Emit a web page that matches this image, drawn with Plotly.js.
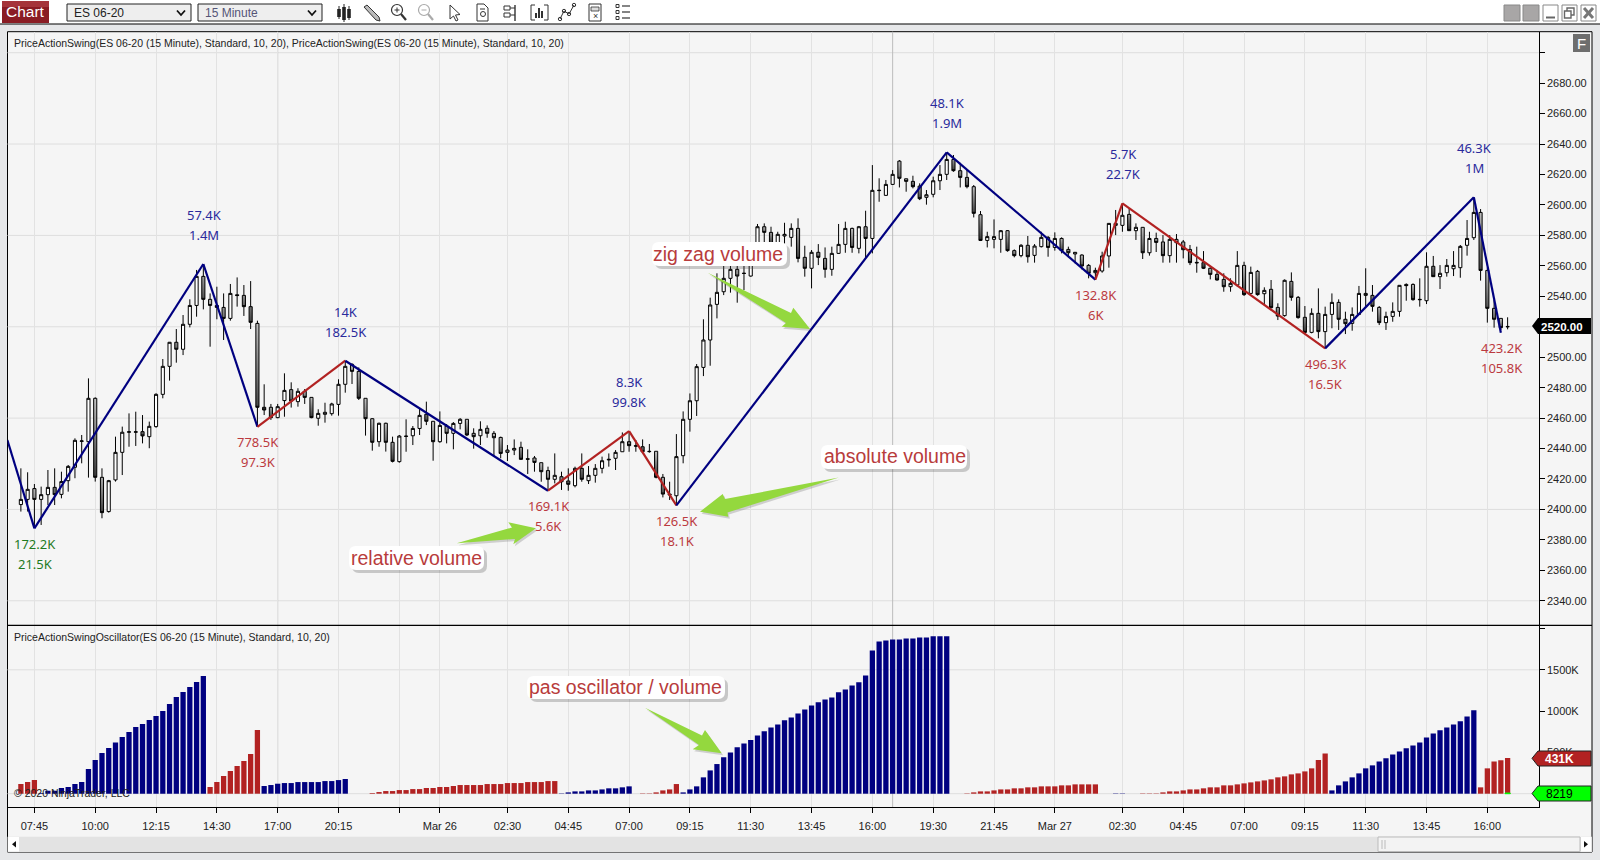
<!DOCTYPE html>
<html><head><meta charset="utf-8">
<script src="https://cdn.plot.ly/plotly-3.0.1.min.js"></script>
<style>html,body{margin:0;padding:0;background:#e6e7e9;overflow:hidden}#chart{width:1600px;height:860px}</style>
</head><body><div id="chart"></div>
<script>
const firstBar=-2;
const barOpen=[
2403.2,2406.6,2413.7,2406.6,2409.7,2414.5,2409.9,2418.9,2427.7,2444.7,
2444.5,2473,2421.1,2398.6,2419.4,2437.5,2450.7,2450.7,2451.1,2447.8,
2454.4,2475.6,2494,2509.8,2505.2,2521.6,2534,2553.1,2538,2534,
2532.7,2525.5,2541,2540.6,2533.2,2522.2,2467.1,2467.1,2460.3,2471.5,
2478.7,2470.8,2477.6,2473.6,2459.9,2462.5,2462.9,2469,2482.2,2495.3,
2490.7,2473,2459.6,2444.5,2456.6,2444.1,2431.4,2448.2,2448.4,2453.2,
2462.5,2457.9,2444.5,2454.8,2450,2456.5,2459.2,2450,2448.4,2453.3,
2450,2447.3,2437.5,2439,2440.8,2433.3,2433.8,2430.7,2425.5,2419.8,
2421.5,2418.7,2415.6,2427,2418.9,2422.4,2427,2432.5,2433.6,2437.9,
2444.5,2441.9,2441.2,2438.2,2438.2,2421.1,2410.1,2409,2435.3,2459.2,
2471.4,2493.3,2511.3,2534.7,2543,2551.8,2557.7,2555.2,2553.3,2566,
2585.7,2582,2574.1,2579.6,2578.7,2584.6,2565.6,2558.4,2568.9,2564.9,
2557.7,2568.2,2574.1,2584.6,2571.5,2585.7,2578,2609.4,2606.3,2613.5,
2628.8,2617.2,2615.5,2612.4,2605,2607,2615.9,2620.1,2629.9,2622.5,
2618.1,2612,2593.6,2576.7,2577.4,2577.4,2583.1,2570,2566.7,2573.5,
2566.9,2572.6,2578.7,2572.1,2578,2570.8,2567.8,2567.1,2560.3,2555.5,
2556.6,2566.5,2586.6,2586.6,2593.8,2583.1,2585.3,2568.6,2578,2575.7,
2566.7,2577.4,2575.7,2570.8,2562.3,2562.1,2558.4,2554.4,2551.1,2546.3,
2547.4,2560.3,2541.9,2556.4,2541.7,2544.6,2532.7,2527.3,2549.8,2539.3,
2526.2,2516.3,2528.8,2516.8,2528.1,2536,2524.9,2522.2,2528.1,2540.6,
2540.6,2532.7,2522.7,2526.8,2530.1,2547.8,2547.8,2538,2537.1,2559.7,
2552.9,2555.5,2558.1,2558.8,2573.5,2578.5,2595.1,2557,2532.1,2525.5,2520.2];
const barHigh=[
2427,2424.4,2416.7,2415,2425.9,2427,2424.8,2429.2,2446.7,2448.9,
2486.1,2473.6,2427,2419.4,2447.8,2454.4,2463.1,2464.2,2462,2457.7,
2476.3,2498.8,2510,2518.5,2527.7,2538,2557.3,2560.6,2541.9,2546.3,
2541.9,2548.1,2552.4,2547.4,2550,2524,2482.2,2469.3,2469.3,2489.4,
2483.5,2479.6,2479.1,2473.6,2465.8,2470.1,2470.1,2485.5,2497,2496,
2493.3,2473,2459.9,2457,2457,2447.8,2448.9,2459.2,2454.8,2466.4,
2470.8,2457.9,2464.4,2456.1,2457.4,2460,2459.2,2453.3,2457.9,2455.2,
2451.5,2447.8,2442.3,2446,2444.5,2439.5,2435.1,2430.7,2428.1,2436.8,
2424.8,2427,2428.1,2436.8,2428.5,2429.8,2434.7,2436.8,2439,2450.6,
2450.4,2445.6,2446,2443,2438.2,2423.3,2418.2,2449.5,2464.4,2476.2,
2495.5,2524.9,2539.1,2555.1,2560.5,2562.7,2566,2561.6,2568.2,2587.5,
2587.9,2585.7,2582.4,2588.3,2587.9,2591.2,2573.2,2570.4,2574.3,2572.1,
2572.6,2587.5,2589,2585.1,2586.2,2596.2,2626.2,2617.5,2616.4,2622.9,
2629.5,2617.2,2619.2,2614.2,2609.8,2618.6,2626.2,2634.5,2632.8,2627.7,
2622.9,2613.1,2596,2582.4,2590.5,2583.5,2583.5,2570.8,2574.3,2579.6,
2574.3,2582.4,2579.6,2582,2578.7,2572.6,2569,2567.6,2561.2,2558.8,
2569.3,2588,2596.7,2601,2597.8,2587.9,2585.3,2582.4,2581.8,2580.2,
2580.2,2580.9,2577,2573.7,2572.6,2569.7,2559,2557.3,2555.1,2551.8,
2569.7,2562.7,2559.5,2557.3,2545.9,2550.7,2535.4,2551.1,2555.7,2540.2,
2533.6,2532.1,2545.2,2533.2,2541.9,2538,2529.9,2532.7,2546.8,2558.4,
2547.4,2533.6,2529.9,2536,2547.4,2548.5,2548.5,2551.8,2568.9,2566.5,
2560.5,2564.5,2569.7,2573.7,2590.1,2604.3,2597.3,2559,2537.6,2525.5,2526.2];
const barLow=[
2398.6,2398.6,2388.7,2389.8,2402.9,2402.9,2407.3,2411.7,2420.5,2430.3,
2420.9,2418.3,2394.2,2397.9,2418.3,2422.6,2441.2,2441.7,2443.4,2440.2,
2453.7,2473,2484.6,2496.4,2501.4,2519.6,2526.6,2531.4,2506.9,2524.9,
2511.3,2524,2533.2,2527.1,2518.5,2454.4,2462,2458.8,2459.9,2460.9,
2466.9,2467.5,2469.3,2459.9,2455,2457,2461.6,2461.6,2476.7,2482.4,
2471.9,2448.5,2438.6,2441.2,2438,2430.9,2430.7,2437.9,2442.3,2448.9,
2455.4,2432,2443.8,2443.4,2439.5,2452.6,2448.2,2439.9,2442.3,2447.1,
2434.7,2433.6,2431.8,2435.7,2432.5,2423.3,2424.8,2418.2,2412.8,2417.1,
2412.8,2412.3,2414.5,2418.2,2416.7,2417.6,2423.7,2428.1,2425.9,2437.9,
2437.9,2437.9,2437.3,2437.3,2420.4,2407.9,2406.2,2402.5,2430.3,2451.1,
2461.4,2487.6,2494.4,2525.5,2540.8,2542.4,2535.8,2544.1,2552.9,2564.9,
2574.8,2573.7,2573.7,2572.6,2572.6,2562.3,2552.9,2545.2,2560.5,2552.2,
2553.5,2567.8,2568.6,2568.6,2568.2,2564.9,2568.2,2602.1,2606.1,2613.1,
2611.5,2608.7,2610.9,2603.2,2600.2,2605,2609.8,2616.4,2621.8,2611.5,
2610.9,2591.8,2576.3,2572.1,2571.5,2568.6,2569.3,2565.6,2565.6,2562.1,
2562.1,2572.1,2566,2570,2568.2,2565.6,2561.6,2557.7,2551.8,2550.7,
2555.5,2558.8,2580.2,2582.4,2583,2577,2564.5,2566.7,2569.1,2562.1,
2562.1,2562.1,2564.9,2560.5,2555.5,2557.9,2551.1,2550.3,2543,2543,
2546.3,2540.2,2541.5,2540.4,2534.3,2532.1,2524.4,2526.6,2537.1,2525.3,
2515.7,2515.7,2512.4,2505.8,2519,2517.9,2515.2,2517.4,2527.7,2533.2,
2529.9,2521.1,2517.9,2523.3,2526.6,2537.1,2537.1,2533.2,2534.9,2552.9,
2544.8,2552.9,2553.3,2552.2,2566.7,2577,2550.3,2522.7,2519.4,2517.9,2518.3];
const barClose=[
2406.6,2413.2,2406.6,2409.7,2414.5,2409.7,2418.3,2428.3,2445.4,2445,
2473,2421.1,2397.9,2418.9,2437.5,2450.7,2451,2451,2448.3,2454.6,
2475.6,2494,2509.8,2505.2,2521.6,2534,2553.1,2538,2534,2532.7,
2525.5,2541.9,2540.5,2533.2,2522.9,2467.1,2465.3,2460.3,2467.5,2478.2,
2471.2,2477.6,2473.6,2460.3,2463.1,2463.8,2469.3,2482.2,2494,2490.7,
2473,2459.6,2444.1,2456.6,2444.1,2431.6,2448.2,2448,2453.2,2461.8,
2457.9,2444.5,2455.2,2450,2456.5,2459.2,2448.9,2447.8,2452.6,2450,
2447.1,2436.8,2439,2440.1,2432.9,2433,2430.9,2424.8,2419.8,2422.4,
2418.2,2416.5,2427,2419.8,2422.4,2427,2432,2432.9,2437.5,2444.5,
2441.9,2441.6,2437.9,2438,2421.1,2410.1,2409.6,2434.7,2459.2,2471.4,
2493.8,2511.3,2534.3,2542.6,2551.8,2557.7,2553.3,2555,2567.1,2585.7,
2582,2574.1,2580.7,2580.7,2584.6,2564.9,2558.4,2568.9,2565.6,2557.7,
2568.2,2574.1,2584.6,2572.1,2585.7,2578,2609.6,2609.6,2613.5,2620.1,
2617.5,2615.5,2612,2604.1,2606.7,2615.9,2620.1,2629.9,2622.5,2618.1,
2612,2594.5,2576.7,2579.2,2579.2,2583.1,2570,2566.7,2573.5,2566,
2573,2578.7,2572.1,2578,2570,2568.6,2568.9,2559.9,2555.1,2557,
2566.5,2587.9,2587.9,2593.2,2583.1,2585.3,2568.6,2578,2575.4,2566.7,
2577.4,2575.2,2570.6,2562.1,2562,2558.4,2554.4,2550.7,2546.3,2548.5,
2560.3,2541.1,2555.7,2541.1,2543.9,2532.5,2527,2550.5,2539.3,2526,
2516.3,2528.8,2516.8,2528.1,2536,2524.9,2522,2528.1,2541.9,2541.9,
2533.4,2522.7,2526.8,2530.1,2547.2,2547,2537.8,2537.8,2559.7,2552.9,
2555.1,2560.3,2560.3,2572.8,2578,2595.1,2557,2532.1,2524.9,2519.4,2520];
const oscValues=[
117,141,165,10,36,36,69,81,117,141,
299,408,492,553,621,686,746,807,843,892,
940,1001,1085,1170,1231,1291,1352,1424,81,141,
214,274,335,395,480,771,93,105,121,129,
129,141,141,141,141,153,153,165,178,0,
0,0,8,20,32,32,44,44,56,56,
69,69,81,81,93,105,105,105,105,117,
117,117,129,129,129,141,141,141,153,153,
4,16,28,28,40,40,52,65,65,77,
89,0,4,4,16,40,52,117,16,52,
89,198,282,359,440,500,561,609,650,706,
755,803,839,888,924,972,1021,1069,1106,1142,
1166,1227,1263,1311,1348,1432,1735,1844,1856,1868,
1868,1880,1880,1892,1892,1905,1905,1905,0,0,
4,16,28,28,40,52,52,65,65,77,
77,89,89,89,101,101,113,113,113,113,
0,0,4,4,0,0,4,4,4,16,
28,28,40,52,52,65,77,77,101,101,
113,125,137,149,161,174,198,210,234,246,
270,307,408,488,40,101,149,198,246,307,
343,391,428,476,512,549,585,621,682,730,
767,803,839,876,936,1009,77,307,391,404,431];
const oscRunSides=['r','b','r','b','r','b','r','b','r','b','r','b','r'];
const oscRunLengths=[3,25,8,13,31,11,7,40,24,4,28,22,5];
const lastOscillator=8.219;
const swingIdx=[-4,0,25,33,46,76,88,95,135,157,161,191,213,217];
const swingPrice=[2445.6,2387.6,2561.2,2454.3,2497.7,2412.3,2451.5,2402.7,2634.5,2551,2601,2505.8,2605,2516];
const swingSide=['b','b','b','r','b','r','r','b','b','r','r','b','b'];
const labelIdx=[0,25,33,46,76,88,95,135,157,161,191,213,217];
const labelUpper=['172.2K','57.4K','778.5K','14K','169.1K','8.3K','126.5K','48.1K','132.8K','5.7K','496.3K','46.3K','423.2K'];
const labelLower=['21.5K','1.4M','97.3K','182.5K','5.6K','99.8K','18.1K','1.9M','6K','22.7K','16.5K','1M','105.8K'];
const labelKind=['g','h','l','h','l','h','l','h','l','h','l','h','l'];
const xTickIdx=[0,9,18,27,36,45,54,60,70,79,88,97,106,115,124,133,142,151,161,170,179,188,197,206,215];
const xTickText=['07:45','10:00','12:15','14:30','17:00','20:15','','Mar 26','02:30','04:45','07:00','09:15','11:30','13:45','16:00','19:30','21:45','Mar 27','02:30','04:45','07:00','09:15','11:30','13:45','16:00'];
const priceTicks=[2340,2360,2380,2400,2420,2440,2460,2480,2500,2520,2540,2560,2580,2600,2620,2640,2660,2680,2700];
const unlabelledPrices=[2520,2700];
const priceGrid=[2340,2400,2460,2520,2580,2640,2700];
const oscTicks=[500,1000,1500,2000];
const oscTickText=['500K','1000K','1500K',''];
const oscGrid=[0,1500];
const sessionBreaks=[36,127];

const NAVY='#000080',RED='#b22222',LBL_B='#2a2a9c',LBL_R='#bb3a3f',LBL_G='#1f7a1f',CALL='#b83c3c',ARROW='#94d83e';
const W=1600,H=860,L=7.5,R=1538.7,T=31.7,MID=625.3,B=807;
const PX=x=>x/W, PY=y=>1-y/H;
const shapes=[],anns=[];
function rect(x0,y0,x1,y1,fill,stroke,w,layer){shapes.push({type:'rect',xref:'paper',yref:'paper',x0:PX(x0),x1:PX(x1),y0:PY(y0),y1:PY(y1),fillcolor:fill||'rgba(0,0,0,0)',line:{color:stroke||'rgba(0,0,0,0)',width:stroke?(w||1):0},layer:layer||'above'});}
function seg(x0,y0,x1,y1,c,w,layer){shapes.push({type:'line',xref:'paper',yref:'paper',x0:PX(x0),x1:PX(x1),y0:PY(y0),y1:PY(y1),line:{color:c,width:w||1},layer:layer||'above'});}
function poly(p,fill,stroke,w,closed){let d=p.map((q,i)=>(i?'L':'M')+PX(q[0])+' '+PY(q[1])).join(' ')+(closed===false?'':' Z');shapes.push({type:'path',xref:'paper',yref:'paper',path:d,fillcolor:fill||'rgba(0,0,0,0)',line:{color:stroke||'rgba(0,0,0,0)',width:stroke?(w||1):0},layer:'above'});}
function circ(cx,cy,r,stroke,w){shapes.push({type:'circle',xref:'paper',yref:'paper',x0:PX(cx-r),x1:PX(cx+r),y0:PY(cy+r),y1:PY(cy-r),line:{color:stroke,width:w||1},fillcolor:'rgba(0,0,0,0)',layer:'above'});}
function txt(x,y,s,size,color,anchor,fam,bold){anns.push({xref:'paper',yref:'paper',x:PX(x),y:PY(y),text:bold?'<b>'+s+'</b>':s,showarrow:false,xanchor:anchor||'left',yanchor:'middle',font:{family:fam||'Liberation Sans',size:size,color:color},borderpad:0});}
function bubble(x0,y0,x1,y1,r,fill){const P=(x,y)=>PX(x)+' '+PY(y);
 const d='M'+P(x0+r,y0)+' L'+P(x1-r,y0)+' Q'+P(x1,y0)+' '+P(x1,y0+r)+' L'+P(x1,y1-r)+' Q'+P(x1,y1)+' '+P(x1-r,y1)+' L'+P(x0+r,y1)+' Q'+P(x0,y1)+' '+P(x0,y1-r)+' L'+P(x0,y0+r)+' Q'+P(x0,y0)+' '+P(x0+r,y0)+' Z';
 shapes.push({type:'path',xref:'paper',yref:'paper',path:d,fillcolor:fill,line:{width:0,color:'rgba(0,0,0,0)'},layer:'above'});}

// window + panel chrome
rect(0,0,W,24,'#ffffff',null,0,'below');
rect(L,T,1592,852,'#f5f5f5','#000000',1,'below');
rect(L,836.7,1592,852,'#e3e3e3',null,0,'below');
priceGrid.forEach(v=>shapes.push({type:'line',xref:'paper',yref:'y',x0:PX(L),x1:PX(R),y0:v,y1:v,line:{color:'#dedede',width:1},layer:'below'}));
oscGrid.forEach(v=>shapes.push({type:'line',xref:'paper',yref:'y2',x0:PX(L),x1:PX(R),y0:v,y1:v,line:{color:'#dedede',width:1},layer:'below'}));
sessionBreaks.forEach(v=>shapes.push({type:'line',xref:'x',yref:'paper',x0:v,x1:v,y0:PY(B),y1:PY(T),line:{color:'#bcbcbc',width:1},layer:'below'}));

// toolbar
seg(0,24,W,24,'#000',1.2);
rect(2,1,49,23,'#8a1c24',null);
rect(2,1,49,7,'#a5343a',null);
txt(25.5,12,'Chart',15.5,'#ffffff','center');
rect(67,4,191,21,'#eeeeee','#222222',1);
txt(73,12.5,'ES 06-20',12,'#222222');
rect(198,4,322,21,'#eeeeee','#222222',1);
txt(204,12.5,'15 Minute',12,'#555577');
[181,312].forEach(x=>poly([[x-4,10.5],[x,15],[x+4,10.5]],null,'#111',1.8,false));
// toolbar icons
[[339,9,17,6,19],[344,7,20,4,22],[349,9,18,6,20]].forEach(b=>{seg(b[0],b[3],b[0],b[4],'#222',1);rect(b[0]-1.8,b[1],b[0]+1.8,b[2],'#222');});
poly([[364,7],[367,5],[379,17],[380,21],[376,20]],'#bbb','#333',1);
circ(397,10,5.5,'#333',1.2);seg(394.5,10,399.5,10,'#333',1);seg(397,7.5,397,12.5,'#333',1);seg(401,14,406,20,'#333',2.2);
circ(424,10,5.5,'#aaa',1.2);seg(421.5,10,426.5,10,'#aaa',1);seg(428,14,433,20,'#aaa',2.2);
poly([[450,5],[450,19],[453.5,16],[456,21],[458,20],[455.5,15],[460,14.5]],'#fff','#333',1);
poly([[477,4],[484,4],[488,8],[488,21],[477,21]],'#fff','#333',1);circ(483,14,2.5,'#333',1);seg(480,9,485,9,'#333',1);
rect(504,6,510,10,'#fff','#333',1);rect(504,13,510,17,'#fff','#333',1);seg(510,8,515,8,'#333',1);seg(510,15,515,15,'#333',1);seg(515,5,515,21,'#333',1.4);
seg(531,5,531,20,'#333',1);seg(531,5,535,5,'#333',1);seg(531,20,535,20,'#333',1);seg(548,5,548,20,'#333',1);seg(544,5,548,5,'#333',1);seg(544,20,548,20,'#333',1);[536,539,542].forEach((x,i)=>seg(x,[13,8,11][i],x,18,'#333',2));
poly([[560,19],[564,11],[569,14],[574,5]],null,'#333',1,false);circ(560,19,1.7,'#333',1);circ(564,11,1.7,'#333',1);circ(569,14,1.7,'#333',1);circ(574,5,1.7,'#333',1);
rect(589,4,601,21,'#fff','#333',1);rect(591,7,599,11,'#ddd','#333',.8);txt(595,16,'×',9,'#333','center');
[6,12,18].forEach(y=>{rect(616,y-1.5,619,y+1.5,'#fff','#333',1);seg(622,y,630,y,'#333',1.2);});
// window buttons
rect(1504,5,1520,21,'#a8a6a6','#888',1);rect(1523,5,1539,21,'#a8a6a6','#888',1);
rect(1543,5,1558,21,'#fff','#888',1);seg(1546,17.5,1555,17.5,'#666',2);
rect(1562,5,1577,21,'#fff','#888',1);rect(1567,8,1574,15,'#fff','#666',1.4);rect(1564.5,11,1571,18,'#fff','#666',1.4);
rect(1581,5,1596,21,'#fff','#888',1);seg(1584,8,1593,18,'#777',3);seg(1593,8,1584,18,'#777',3);
// F button
rect(1573,34,1590,52,'#6e6e6e',null);txt(1581.5,43.5,'F',15,'#ffffff','center');

seg(L,MID,1592,MID,'#000',1.2);
// scroll bar
rect(8,837,19,851.5,'#ffffff',null);poly([[16,841],[16,847.5],[12,844.2]],'#111');
rect(1378,837,1580,851.5,'#f3f3f3','#bbbbbb',1);seg(1382,840,1382,849,'#bbb',1);seg(1385,840,1385,849,'#bbb',1);
rect(1581,837,1591,851.5,'#ffffff',null);poly([[1584,841],[1584,847.5],[1588,844.2]],'#111');

// green arrows with soft shadow
const arrows=[
 [[707.7,272.7],[791,313],[793.3,307.7],[810,329],[781.7,326.7],[786,323]],
 [[838.8,477.5],[725,499],[722.7,494],[700,511.7],[728.3,516.7],[727.5,512.5]],
 [[456.7,543.3],[512,527.5],[508.3,522.3],[536,528.3],[513.3,544.3],[515,539]],
 [[645,707.7],[702,735.5],[705,730],[721.7,753.3],[692.7,749.3],[699,745]]];
arrows.forEach(a=>{poly(a.map(p=>[p[0]+1.5,p[1]+2]),'rgba(90,90,90,0.25)');poly(a,ARROW);});
// callouts
const callouts=[['zig zag volume',718,254,652,787,242,266],['absolute volume',895,456,821,967,445,469],['relative volume',416,558,349,484,546,570],['pas oscillator / volume',625.5,687,527,725,676,699]];
callouts.forEach(c=>{bubble(c[3]+3,c[5]+3,c[4]+3,c[6]+3,7,'rgba(80,80,80,0.28)');bubble(c[3],c[5],c[4],c[6],7,'#ffffff');txt(c[1],c[2],c[0],19.5,CALL,'center');});

// indicator captions
txt(13,43,'PriceActionSwing(ES 06-20 (15 Minute), Standard, 10, 20), PriceActionSwing(ES 06-20 (15 Minute), Standard, 10, 20)',10.5,'#222222');
txt(13,637,'PriceActionSwingOscillator(ES 06-20 (15 Minute), Standard, 10, 20)',10.5,'#222222');
txt(13,793,'© 2020 NinjaTrader, LLC',10.5,'#222222');

// price tags
poly([[1532,326],[1538,318],[1591,318],[1591,334],[1538,334]],'#000000');
txt(1562,326.5,'2520.00',11.5,'#ffffff','center',null,true);
poly([[1532,758.3],[1538,751],[1591,751],[1591,766],[1538,766]],RED,'#222222',1);
txt(1559,758.8,'431K',12,'#ffffff','center',null,true);
poly([[1532,793.5],[1538,786],[1591,786],[1591,801],[1538,801]],'#00ff00','#222222',1);
txt(1559,794,'8219',12,'#000000','center');

// swing value labels, anchored to their swing points
labelIdx.forEach((idx,k)=>{
 const p=swingPrice[swingIdx.indexOf(idx)],kind=labelKind[k];
 const c=kind==='h'?LBL_B:kind==='l'?LBL_R:LBL_G,up=kind==='h';
 [[labelUpper[k],up?49:-15.3],[labelLower[k],up?29:-35.3]].forEach(e=>anns.push({xref:'x',yref:'y',x:idx+0.1,y:p,yshift:e[1],text:e[0],showarrow:false,xanchor:'center',yanchor:'middle',font:{family:'Noto Sans',size:13,color:c}}));
});

const barX=barOpen.map((_,i)=>i+firstBar);
const traces=[{type:'candlestick',x:barX,open:barOpen,high:barHigh,low:barLow,close:barClose,xaxis:'x',yaxis:'y',whiskerwidth:0,
 increasing:{line:{color:'#000',width:1},fillcolor:'#ffffff'},decreasing:{line:{color:'#000',width:1},fillcolor:'#6a6a6a'},hoverinfo:'skip',showlegend:false}];
for(let k=0;k<swingSide.length;k++){traces.push({type:'scatter',mode:'lines',x:[swingIdx[k],swingIdx[k+1]],y:[swingPrice[k],swingPrice[k+1]],xaxis:'x',yaxis:'y',line:{color:swingSide[k]==='b'?NAVY:RED,width:2.2},hoverinfo:'skip',showlegend:false});}
const oscColors=[];oscRunSides.forEach((s,k)=>{for(let n=0;n<oscRunLengths[k];n++)oscColors.push(s==='b'?NAVY:RED);});
traces.push({type:'bar',x:barX,y:oscValues,xaxis:'x',yaxis:'y2',width:0.78,marker:{color:oscColors,line:{width:0}},hoverinfo:'skip',showlegend:false});
traces.push({type:'bar',x:[barX[barX.length-1]],y:[lastOscillator],xaxis:'x',yaxis:'y2',width:0.78,marker:{color:'#00ff00',line:{color:'#00ff00',width:1}},hoverinfo:'skip',showlegend:false});

const tf={family:'Liberation Sans',size:11,color:'#222222'};
const layout={width:W,height:H,margin:{l:0,r:0,t:0,b:0,pad:0},paper_bgcolor:'#e6e7e9',plot_bgcolor:'#f5f5f5',showlegend:false,barmode:'overlay',boxgap:0.34,
 xaxis:{domain:[PX(L),PX(R)],range:[-3.98,222.6],anchor:'y2',type:'linear',rangeslider:{visible:false},tickmode:'array',tickvals:xTickIdx,ticktext:xTickText,ticks:'outside',ticklen:5,ticklabelstandoff:4,tickcolor:'#000',tickwidth:1,showline:true,linecolor:'#000',linewidth:1,showgrid:true,gridcolor:'#e2e2e2',gridwidth:1,zeroline:false,tickfont:tf,tickangle:0,fixedrange:true},
 yaxis:{domain:[PY(MID),PY(T)],range:[2323.9,2713.8],anchor:'x',side:'right',tickmode:'array',tickvals:priceTicks,ticktext:priceTicks.map(v=>unlabelledPrices.includes(v)?'':v.toFixed(2)),ticks:'outside',ticklen:5,tickcolor:'#000',showline:true,linecolor:'#000',linewidth:1,showgrid:false,zeroline:false,tickfont:tf,fixedrange:true},
 yaxis2:{domain:[PY(B),PY(MID)],range:[-161,2039],anchor:'x',side:'right',tickmode:'array',tickvals:oscTicks,ticktext:oscTickText,ticks:'outside',ticklen:5,tickcolor:'#000',showline:true,linecolor:'#000',linewidth:1,showgrid:false,zeroline:false,tickfont:tf,fixedrange:true},
 shapes:shapes,annotations:anns};
Plotly.newPlot('chart',traces,layout,{displayModeBar:false,staticPlot:true}).then(gd=>{
 // grey gradient on the falling candle bodies, as in the original
 const svg=gd.querySelector('svg.main-svg');
 const ns='http://www.w3.org/2000/svg';
 const g=document.createElementNS(ns,'linearGradient');g.setAttribute('id','downBody');g.setAttribute('x1','0');g.setAttribute('y1','0');g.setAttribute('x2','0');g.setAttribute('y2','1');
 [['0','#c4c4c4'],['1','#2e2e2e']].forEach(s=>{const st=document.createElementNS(ns,'stop');st.setAttribute('offset',s[0]);st.setAttribute('stop-color',s[1]);g.appendChild(st);});
 let defs=svg.querySelector('defs');if(!defs){defs=document.createElementNS(ns,'defs');svg.insertBefore(defs,svg.firstChild);}defs.appendChild(g);
 gd.querySelectorAll('.boxes path.box').forEach(p=>{const f=p.style.fill.replace(/\s/g,'');if(f==='rgb(106,106,106)')p.style.fill='url(#downBody)';});
});
</script></body></html>
